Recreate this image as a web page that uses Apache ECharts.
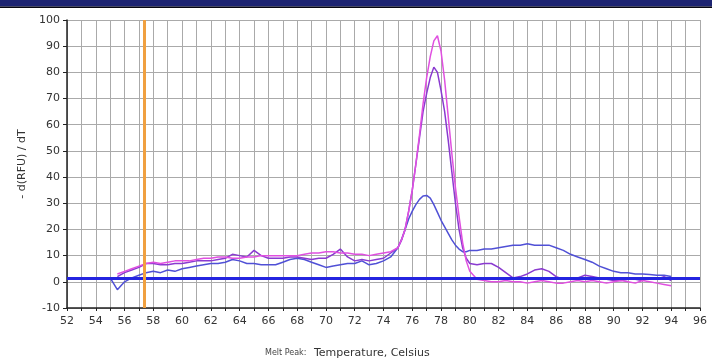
<!DOCTYPE html>
<html>
<head>
<meta charset="utf-8">
<script src="https://cdn.jsdelivr.net/npm/echarts@6/dist/echarts.min.js"></script>
<style>
  html, body { margin: 0; padding: 0; background: #fff; }
  #melt-curve { width: 712px; height: 361px; }
</style>
</head>
<body>
<div id="melt-curve"></div>
<script>
// temperatures (deg C) the curves are sampled at
const temps = [
  55, 55.5, 56, 56.5, 57, 57.5, 58, 58.5, 59, 59.5, 60, 60.5, 61, 61.5, 62, 62.5, 63, 63.5, 64, 64.5,
  65, 65.5, 66, 66.5, 67, 67.5, 68, 68.5, 69, 69.5, 70, 70.5, 71, 71.5, 72, 72.5, 73, 73.5, 74, 74.5, 75,
  75.25, 75.5, 75.75, 76, 76.25, 76.5, 76.75, 77, 77.25, 77.5, 77.75, 78, 78.25, 78.5, 78.75, 79, 79.25, 79.5, 79.75, 80,
  80.5, 81, 81.5, 82, 82.5, 83, 83.5, 84, 84.5, 85, 85.5, 86, 86.5, 87, 87.5, 88, 88.5, 89, 89.5, 90,
  90.5, 91, 91.5, 92, 92.5, 93, 93.5, 94
]

// -d(RFU)/dT per well
const blueWell = [
  1.5, -3, 0, 1.5, 2.5, 3.5, 4, 3.5, 4.5, 4, 5, 5.5, 6, 6.5, 7, 7, 7.5, 8.5, 8, 7,
  7, 6.5, 6.5, 6.5, 7.5, 8.5, 9, 8.5, 7.5, 6.5, 5.5, 6, 6.5, 7, 7, 8, 6.5, 7, 8, 9.5, 13,
  16, 20, 24, 27, 29.5, 31.5, 32.8, 33, 32, 29.5, 26.5, 23.5, 21, 18.5, 16, 14, 12.5, 11.5, 11.5, 12,
  12, 12.5, 12.5, 13, 13.5, 14, 14, 14.5, 14, 14, 14, 13, 12, 10.5, 9.5, 8.5, 7.5, 6, 5, 4,
  3.5, 3.5, 3, 3, 2.8, 2.5, 2.5, 2
]
const purpleWell = [
  null, 2, 3.5, 4.5, 5.5, 7, 7, 6.5, 6.5, 7, 7, 7.5, 8, 8, 8, 8.5, 9, 10.5, 10, 9.5,
  12, 10, 9, 9, 9, 9.5, 9.5, 9, 8.5, 9, 9, 10.5, 12.5, 9.5, 8, 8.5, 8, 8.5, 9, 11, 13,
  16, 20, 27, 35, 45, 55, 65, 72, 78, 82, 80, 73, 65, 54, 42, 30, 20, 13, 9, 7,
  6.5, 7, 7, 5.5, 3.5, 1.5, 2, 3, 4.5, 5, 4, 2, 1, 1, 1.5, 2.5, 2, 1.5, 1, 0.5,
  0.5, 1, 1, 0.5, 1.5, 1, 2, 0.5
]
const magentaWell = [
  null, 3, 4, 5, 6, 7, 7.5, 7, 7.5, 8, 8, 8, 8.5, 9, 9, 9.5, 9.5, 9, 9, 9.5,
  9.5, 10, 10, 10, 10, 10, 10, 10.5, 11, 11, 11.5, 11.5, 11, 11, 10.5, 10.5, 10, 10.5, 11, 11.5, 13,
  16, 20, 27, 35, 45, 56, 68, 78, 86, 92, 94, 88, 77, 63, 49, 36, 25, 15, 8, 4,
  1, 0.5, 0, 0, 0.5, 0, 0, -0.5, 0, 0.5, 0, -0.5, -0.5, 0, 0.5, 0, 0.5, 0, -0.5, 0,
  0.5, 0, -0.5, 0.5, 0, -0.5, -1, -1.5
]

const threshold = 1.3
const cursorTemp = 57.35
const yTicks = { min: -10, max: 100, step: 10 }
const xTicks = { min: 52, max: 96, step: 1 }

const pairs = vals => temps.map((t, i) => [t, vals[i]])

const chart = echarts.init(document.getElementById('melt-curve'))

const lineSeries = (name, color, vals) => ({
  name,
  type: 'line',
  data: pairs(vals),
  showSymbol: false,
  connectNulls: false,
  lineStyle: { color, width: 1.5 },
  z: 3
})

const font = 'DejaVu Sans, Verdana, sans-serif'

chart.setOption({
  animation: false,
  backgroundColor: '#fff',
  grid: { left: 67, right: 12, top: 20, bottom: 53 },
  xAxis: {
    type: 'value',
    min: xTicks.min,
    max: xTicks.max,
    interval: xTicks.step,
    axisLine: { onZero: false, lineStyle: { color: '#222', width: 1.5 } },
    axisTick: { length: 3, lineStyle: { color: '#222' } },
    axisLabel: {
      margin: 8,
      color: '#333',
      fontFamily: font,
      fontSize: 11,
      formatter: v => (v % 2 === 0 ? String(v) : '')
    },
    splitLine: { show: true, lineStyle: { color: '#aaaaaa', width: 1 } }
  },
  yAxis: {
    type: 'value',
    min: yTicks.min,
    max: yTicks.max,
    interval: yTicks.step,
    axisLine: { show: true, lineStyle: { color: '#222', width: 1.5 } },
    axisTick: { show: true, length: 4, lineStyle: { color: '#222' } },
    axisLabel: { margin: 7, color: '#333', fontFamily: font, fontSize: 11 },
    splitLine: { show: true, lineStyle: { color: '#aaaaaa', width: 1 } }
  },
  graphic: [
    { type: 'rect', shape: { x: 0, y: 0, width: 712, height: 6.5 }, style: { fill: '#1d2472' } },
    { type: 'rect', shape: { x: 0, y: 6.5, width: 712, height: 1.5 }, style: { fill: '#050510' } },
    {
      type: 'text',
      x: 22, y: 164,
      rotation: Math.PI / 2,
      style: {
        text: '- d(RFU) / dT',
        fill: '#333',
        font: '11px ' + font,
        align: 'center',
        verticalAlign: 'middle'
      }
    },
    {
      type: 'text',
      x: 265, y: 353,
      style: { text: 'Melt Peak:', fill: '#444', font: '8px ' + font, verticalAlign: 'middle' }
    },
    {
      type: 'text',
      x: 314, y: 353,
      style: { text: 'Temperature, Celsius', fill: '#333', font: '11px ' + font, verticalAlign: 'middle' }
    }
  ],
  series: [
    lineSeries('Well A', '#5050d6', blueWell),
    lineSeries('Well B', '#8a3ad0', purpleWell),
    lineSeries('Well C', '#e050e0', magentaWell),
    {
      name: 'markers',
      type: 'line',
      data: [],
      markLine: {
        silent: true,
        symbol: 'none',
        label: { show: false },
        data: [
          { yAxis: threshold, lineStyle: { color: '#2424e0', width: 3, type: 'solid' } },
          { xAxis: cursorTemp, lineStyle: { color: '#f0a040', width: 3, type: 'solid' } }
        ]
      },
      z: 4
    }
  ]
})
</script>
</body>
</html>
